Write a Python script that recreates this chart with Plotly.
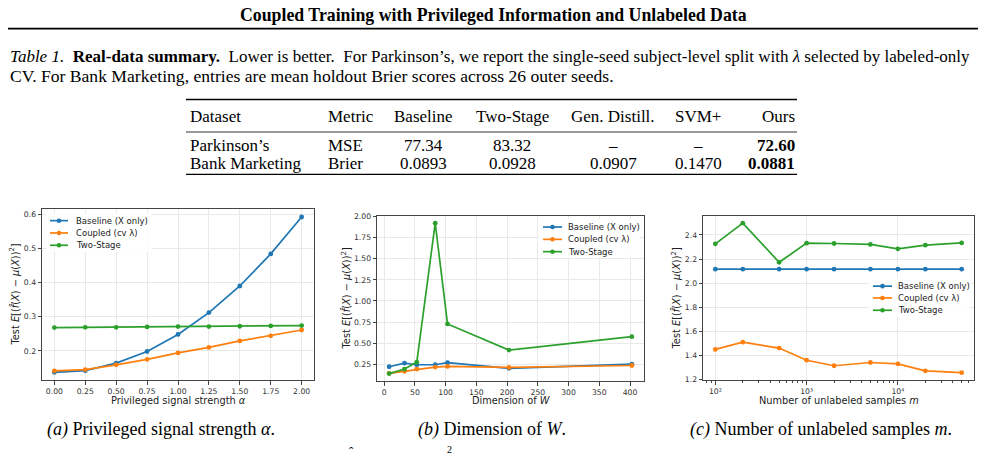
import plotly.graph_objects as go

W, H = 986, 461

# ---------------- data ----------------
alpha = [0.0, 0.25, 0.5, 0.75, 1.0, 1.25, 1.5, 1.75, 2.0]
a_baseline = [0.137, 0.142, 0.164, 0.198, 0.248, 0.312, 0.390, 0.484, 0.592]
a_coupled = [0.141, 0.145, 0.159, 0.175, 0.194, 0.210, 0.229, 0.244, 0.261]
a_twostage = [0.268, 0.269, 0.269, 0.270, 0.271, 0.271, 0.272, 0.273, 0.274]

dim_w = [8, 33, 53, 83, 103, 203, 403]
b_baseline = [0.219, 0.262, 0.243, 0.243, 0.268, 0.200, 0.250]
b_coupled = [0.141, 0.165, 0.192, 0.215, 0.223, 0.211, 0.234]
b_twostage = [0.138, 0.192, 0.273, 1.922, 0.727, 0.417, 0.576]

m_unl = [100, 200, 500, 1000, 2000, 5000, 10000, 20000, 50000]
c_baseline = [2.116] * 9
c_coupled = [1.449, 1.509, 1.460, 1.359, 1.313, 1.340, 1.329, 1.271, 1.255]
c_twostage = [2.326, 2.498, 2.173, 2.332, 2.329, 2.321, 2.285, 2.315, 2.334]

series_names = ["Baseline (X only)", "Coupled (cv λ)", "Two-Stage"]
colors = ["#1f77b4", "#ff7f0e", "#2ca02c"]

table_header = ["Dataset", "Metric", "Baseline", "Two-Stage", "Gen. Distill.", "SVM+", "Ours"]
table_rows = [
    ["Parkinson’s", "MSE", "77.34", "83.32", "–", "–", "72.60"],
    ["Bank Marketing", "Brier", "0.0893", "0.0928", "0.0907", "0.1470", "0.0881"],
]

# ---------------- helpers ----------------
def px(x):
    return x / W

def py(y):
    return 1 - y / H

SERIF = "Liberation Serif"
SANS = "DejaVu Sans"

fig = go.Figure()
annotations = []
shapes = []

def text(x, y, s, size, family=SERIF, xanchor="center", yanchor="middle", color="black", angle=0):
    annotations.append(dict(x=px(x), y=py(y), xref="paper", yref="paper", text=s, showarrow=False,
                            xanchor=xanchor, yanchor=yanchor, textangle=angle,
                            font=dict(family=family, size=size, color=color)))

def hline(x0, x1, y, w, color="black"):
    shapes.append(dict(type="line", xref="paper", yref="paper", x0=px(x0), x1=px(x1), y0=py(y), y1=py(y),
                       line=dict(color=color, width=w)))

# ---------------- page header ----------------
text(493, 12, "<b>Coupled Training with Privileged Information and Unlabeled Data</b>", 17.8)
hline(8, 978, 26, 1.6)

text(8, 54, "<i>Table 1.</i>  <b>Real-data summary.</b>  Lower is better.  For Parkinson’s, we report the single-seed subject-level split with <i>λ</i> selected by labeled-only",
     17, xanchor="left")
text(8, 74, "CV. For Bank Marketing, entries are mean holdout Brier scores across 26 outer seeds.", 17.6, xanchor="left")

# ---------------- table ----------------
hline(186, 797, 98, 1.3)
hline(186, 797, 131, 0.8)
hline(186, 797, 174, 1.3)
col_x = [188, 326, 423, 512, 613, 698, 797]
col_anchor = ["left", "left", "center", "center", "center", "center", "right"]
for j, h in enumerate(table_header):
    text(col_x[j], 115, h, 17, xanchor=col_anchor[j])
for i, row in enumerate(table_rows):
    yy = [145, 163][i]
    for j, v in enumerate(row):
        s = f"<b>{v}</b>" if j == len(row) - 1 else v
        text(col_x[j], yy, s, 17, xanchor=col_anchor[j])

# ---------------- subplots ----------------
dom = {
    "a": ([42, 314], [209, 383]),
    "b": ([377, 644], [216, 384]),
    "c": ([703, 974], [216, 383]),
}

axis_common = dict(showline=True, linecolor="#444", linewidth=0.8, mirror=True,
                   ticks="outside", ticklen=3.5, tickwidth=0.8, tickcolor="#444",
                   tickfont=dict(family=SANS, size=7.7, color="#333"),
                   showgrid=True, gridcolor="#e9e9e9", gridwidth=0.8, zeroline=False)

def add_series(x, ys, xa, ya):
    for y, c, n in zip(ys, colors, series_names):
        fig.add_trace(go.Scatter(x=x, y=y, mode="lines+markers", name=n, showlegend=False,
                                 line=dict(color=c, width=1.7), marker=dict(size=4.8, color=c),
                                 xaxis=xa, yaxis=ya))

add_series(alpha, [a_baseline, a_coupled, a_twostage], "x", "y")
add_series(dim_w, [b_baseline, b_coupled, b_twostage], "x2", "y2")
add_series(m_unl, [c_baseline, c_coupled, c_twostage], "x3", "y3")

def xdom(k):
    return [px(dom[k][0][0]), px(dom[k][0][1])]

def ydom(k):
    return [py(dom[k][1][1]), py(dom[k][1][0])]

minor_vals = [80, 90] + [k * 100 for k in range(2, 10)] + [k * 1000 for k in range(2, 10)] + [k * 10000 for k in range(2, 7)]

layout_axes = dict(
    xaxis=dict(domain=xdom("a"), anchor="y", range=[-0.1, 2.1], tick0=0, dtick=0.25, tickformat=".2f", **axis_common),
    yaxis=dict(domain=ydom("a"), anchor="x", range=[0.114, 0.616], tick0=0.2, dtick=0.1, tickformat=".1f", **axis_common),
    xaxis2=dict(domain=xdom("b"), anchor="y2", range=[-11.75, 422.75], tick0=0, dtick=50, **axis_common),
    yaxis2=dict(domain=ydom("b"), anchor="x2", range=[0.048, 2.011], tick0=0.25, dtick=0.25, tickformat=".2f", **axis_common),
    xaxis3=dict(domain=xdom("c"), anchor="y3", type="log", range=[1.865, 4.834],
                tickvals=[100, 1000, 10000], ticktext=["10²", "10³", "10⁴"],
                minor=dict(tickvals=minor_vals, ticks="outside", ticklen=2, tickwidth=0.6, tickcolor="#444", showgrid=False),
                **axis_common),
    yaxis3=dict(domain=ydom("c"), anchor="x3", range=[1.193, 2.56], tick0=1.2, dtick=0.2, tickformat=".1f", **axis_common),
)

# axis titles
ylab = "Test <i>E</i>[(<i>f̂</i>(<i>X</i>) − <i>μ</i>(<i>X</i>))<sup>2</sup>]"
text(178, 404, "Privileged signal strength <i>α</i>", 9.8, family=SANS, color="#222")
text(510.5, 404, "Dimension of <i>W</i>", 9.8, family=SANS, color="#222")
text(838.5, 404, "Number of unlabeled samples <i>m</i>", 9.8, family=SANS, color="#222")
text(14, 296, ylab, 9.8, family=SANS, color="#222", angle=-90)
text(346, 300, ylab, 9.8, family=SANS, color="#222", angle=-90)
text(676, 300, ylab, 9.8, family=SANS, color="#222", angle=-90)

# manual legends
def legend(x0, x1, xt, ys, bg_box):
    bx0, by0, bx1, by1 = bg_box
    shapes.append(dict(type="rect", xref="paper", yref="paper", x0=px(bx0), x1=px(bx1), y0=py(by1), y1=py(by0),
                       fillcolor="rgba(255,255,255,0.85)", line=dict(width=0)))
    for y, c, n in zip(ys, colors, series_names):
        hline(x0, x1, y, 1.7, color=c)
        xm = (x0 + x1) / 2
        r = 2.3
        shapes.append(dict(type="circle", xref="paper", yref="paper", x0=px(xm - r), x1=px(xm + r),
                           y0=py(y + r), y1=py(y - r), fillcolor=c, line=dict(color=c, width=0)))
        text(xt, y, n, 8.5, family=SANS, xanchor="left", color="#222")

legend(50, 68, 74, [221, 233.5, 246], (46, 213, 152, 253))
legend(543, 562, 566, [227.5, 240, 252.5], (539, 219, 640, 259))
legend(873, 892, 896, [287.5, 299.5, 312], (869, 279, 970, 319))

# captions
text(161, 433, "<i>(a)</i> Privileged signal strength <i>α</i>.", 18)
text(492, 433, "<i>(b)</i> Dimension of <i>W</i>.", 18)
text(821, 433, "<i>(c)</i> Number of unlabeled samples <i>m</i>.", 18)

# partially visible next line at bottom edge
text(351, 446, "ˆ", 13, yanchor="top")
text(449, 446, "2", 10, yanchor="top")

fig.update_layout(
    width=W, height=H, margin=dict(l=0, r=0, t=0, b=0),
    paper_bgcolor="white", plot_bgcolor="white", showlegend=False,
    annotations=annotations, shapes=shapes, **layout_axes,
)

fig.write_html("out.html", config={"displayModeBar": False})
